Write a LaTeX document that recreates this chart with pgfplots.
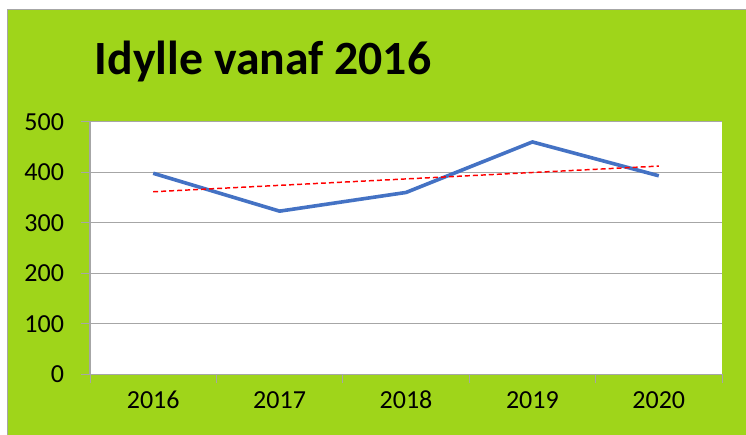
\documentclass[border=0pt]{standalone}
\usepackage{pgfplots}
\pgfplotsset{compat=1.18}
\usepackage{fontspec}
\setmainfont{Carlito}
\definecolor{bggreen}{RGB}{159,213,26}
\definecolor{gridgray}{RGB}{166,166,166}
\definecolor{lineblue}{RGB}{68,114,196}
\begin{document}
\begin{tikzpicture}
\path[use as bounding box] (0,0) rectangle (559.5pt,326.25pt);
\fill[white] (0,0) rectangle (559.5pt,326.25pt);
\fill[bggreen] (5.25pt,0) rectangle (559.5pt,318.75pt);
\draw[gray!70, line width=0.75pt] (5.25pt,0) -- (5.25pt,318.75pt) -- (559.5pt,318.75pt);
\node[anchor=base west, inner sep=0pt, font=\fontsize{35.8}{40}\selectfont\bfseries] at (71pt,270pt) {Idylle vanaf 2016};
\begin{axis}[
  at={(67.5pt,45.5pt)}, anchor=south west,
  scale only axis, width=474pt, height=189.45pt,
  xmin=-0.5, xmax=4.5, ymin=0, ymax=500,
  axis background/.style={fill=white},
  axis line style={draw=none},
  xtick pos=bottom, ytick pos=left,
  /pgf/number format/assume math mode=true,
  ytick={0,100,...,500},
  xtick={-0.5,0.5,1.5,2.5,3.5,4.5},
  xticklabels={},
  every tick/.style={draw=gridgray, line width=0.75pt},
  tick align=outside,
  major tick length=6.75pt,
  extra x ticks={0,1,2,3,4},
  extra x tick labels={2016,2017,2018,2019,2020},
  extra x tick style={grid=none, major tick length=0pt},
  ymajorgrids,
  grid style={draw=gridgray, line width=0.9pt},
  tick label style={font=\fontsize{19.5}{22}\selectfont},
  yticklabel style={inner sep=0pt, anchor=east, xshift=-12.6pt},
  xticklabel style={inner sep=0pt, anchor=base, yshift=-26pt},
  clip=false,
]
\draw[gridgray, line width=0.9pt] (axis cs:-0.5,0) -- (axis cs:-0.5,500);
\draw[gridgray, line width=0.9pt] (axis cs:-0.5,0) -- ++(-6.75pt,0pt);
\draw[gridgray, line width=0.9pt] (axis cs:-0.5,100) -- ++(-6.75pt,0pt);
\draw[gridgray, line width=0.9pt] (axis cs:-0.5,200) -- ++(-6.75pt,0pt);
\draw[gridgray, line width=0.9pt] (axis cs:-0.5,300) -- ++(-6.75pt,0pt);
\draw[gridgray, line width=0.9pt] (axis cs:-0.5,400) -- ++(-6.75pt,0pt);
\draw[gridgray, line width=0.9pt] (axis cs:-0.5,500) -- ++(-6.75pt,0pt);
\addplot[color=lineblue, line width=2.7pt, line join=round] coordinates {(0,398) (1,323) (2,360) (3,460) (4,393)};
\addplot[color=red, line width=1.1pt, dash pattern=on 3.75pt off 2.25pt] coordinates {(0,361.4) (4,412.2)};
\end{axis}
\end{tikzpicture}
\end{document}
